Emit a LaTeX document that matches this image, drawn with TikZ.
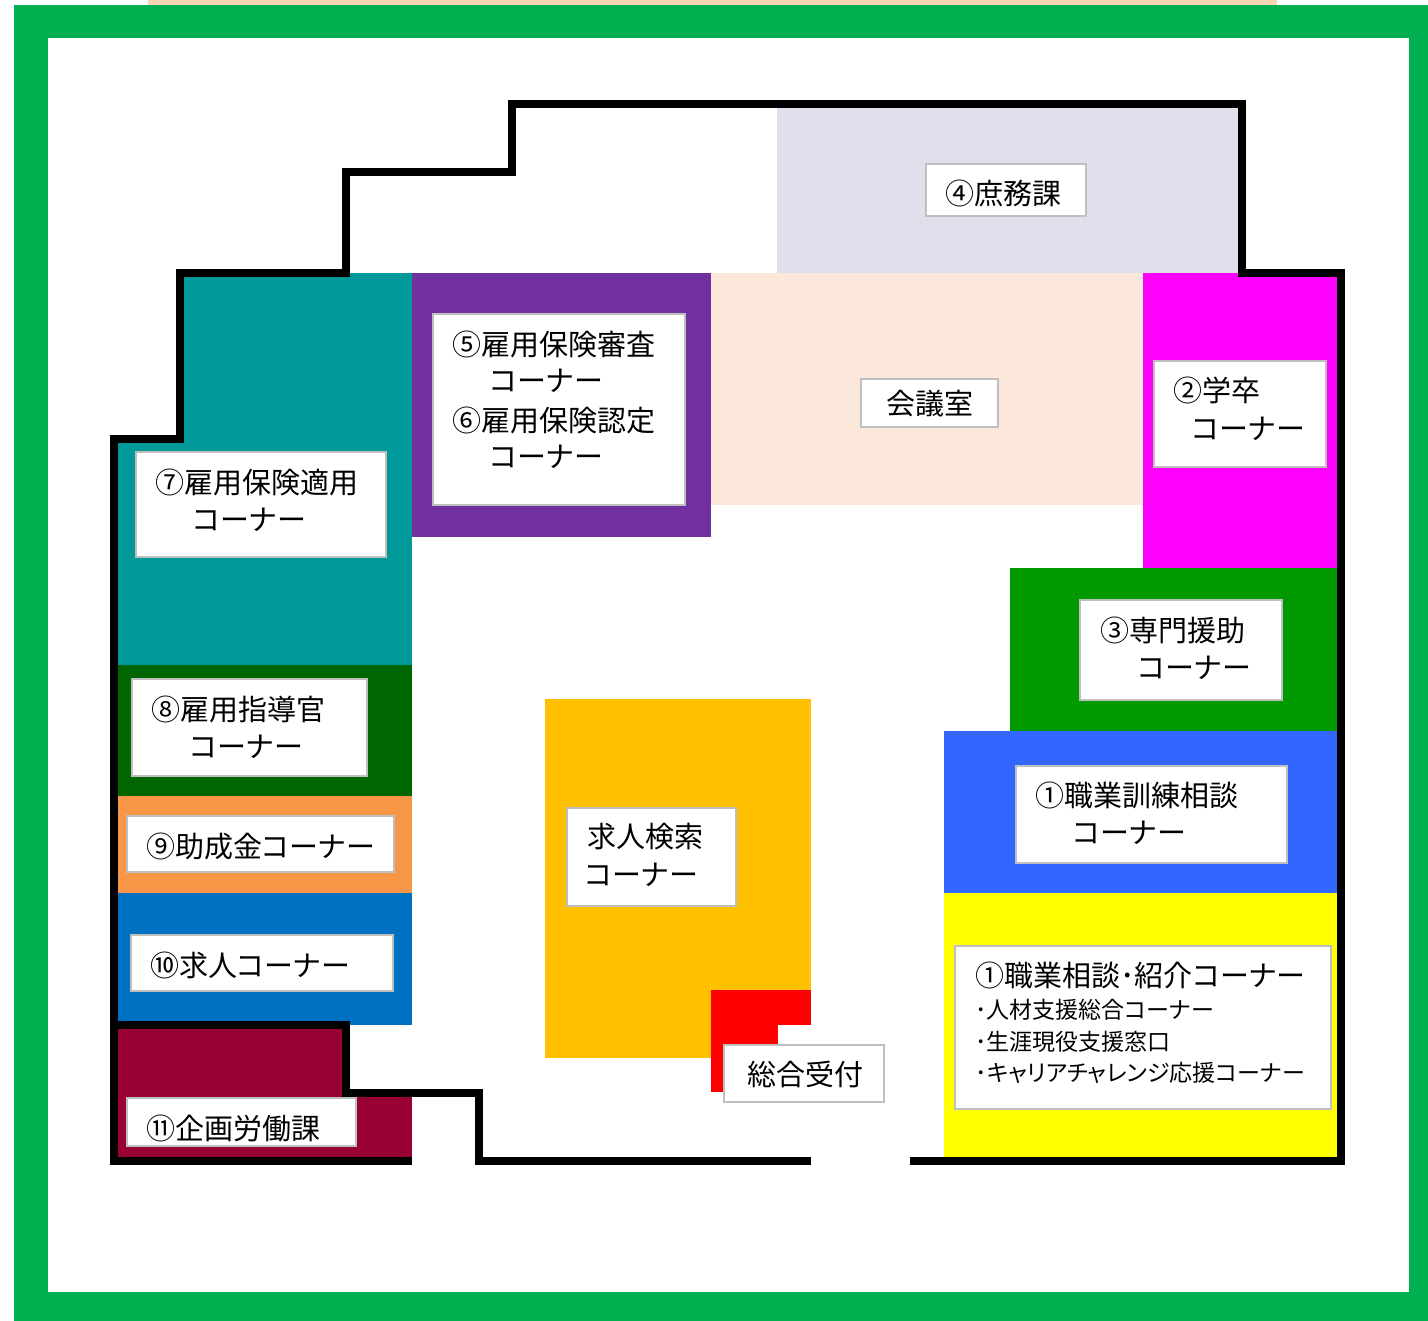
\documentclass[tikz,border=0pt]{standalone}
\usepackage{fontspec}
\setmainfont{Noto Sans CJK JP}[RawFeature=+palt]
\definecolor{framegreen}{RGB}{0,176,80}
\definecolor{stripor}{RGB}{252,213,180}
\definecolor{lav}{RGB}{225,223,236}
\definecolor{teal2}{RGB}{0,153,153}
\definecolor{purp}{RGB}{112,48,160}
\definecolor{peach}{RGB}{251,232,218}
\definecolor{mag}{RGB}{255,0,255}
\definecolor{grn3}{RGB}{0,153,0}
\definecolor{blu1}{RGB}{51,102,255}
\definecolor{yel}{RGB}{255,255,0}
\definecolor{dgrn}{RGB}{0,102,0}
\definecolor{or9}{RGB}{247,150,70}
\definecolor{blu10}{RGB}{0,112,192}
\definecolor{maroon}{RGB}{153,0,51}
\definecolor{gold}{RGB}{255,192,0}
\definecolor{labelgray}{RGB}{191,191,191}
\tikzset{
  wall/.style={line width=4pt, line join=miter, line cap=rect, black},
  lblbox/.style={fill=white, draw=labelgray, line width=1pt},
  txt/.style={anchor=west, inner sep=0pt, font=\fontsize{14.5}{17}\selectfont},
  subtxt/.style={anchor=west, inner sep=0pt, font=\fontsize{11.5}{14}\selectfont}
}
\begin{document}
\begin{tikzpicture}[x=0.5pt,y=-0.5pt]
\useasboundingbox (0,0) rectangle (1428,1321);
% frame
\fill[stripor] (148,0) rectangle (1277,5);
\fill[framegreen] (14,5) rectangle (1428,1321);
\fill[white] (48,38) rectangle (1409,1292);
% rooms
\fill[lav] (777,108) rectangle (1239,273);
\fill[teal2] (184,273) rectangle (412,665);
\fill[teal2] (118,443) rectangle (412,665);
\fill[purp] (412,273) rectangle (711,537);
\fill[peach] (711,273) rectangle (1143,505);
\fill[mag] (1143,273) rectangle (1338,568);
\fill[grn3] (1010,568) rectangle (1338,731);
\fill[blu1] (944,731) rectangle (1338,893);
\fill[yel] (944,893) rectangle (1338,1157);
\fill[dgrn] (118,665) rectangle (412,796);
\fill[or9] (118,796) rectangle (412,893);
\fill[blu10] (118,893) rectangle (412,1025);
\fill[maroon] (118,1025) rectangle (346,1157);
\fill[maroon] (346,1097) rectangle (412,1157);
\fill[gold] (545,699) rectangle (811,990);
\fill[gold] (545,990) rectangle (711,1058);
\fill[red] (711,990) rectangle (811,1025);
\fill[red] (711,1025) rectangle (778,1092);
% walls
\draw[wall] (114,1161) -- (114,439) -- (180,439) -- (180,273) -- (346,273) -- (346,172) -- (512,172) -- (512,104) -- (1242,104) -- (1242,273) -- (1341,273) -- (1341,1161) -- (914,1161);
\draw[wall] (114,1161) -- (408,1161);
\draw[wall] (114,1025) -- (346,1025) -- (346,1093) -- (479,1093) -- (479,1161) -- (807,1161);
% label boxes
\draw[lblbox] (926,164) rectangle (1086,216);
\draw[lblbox] (861,379) rectangle (998,427);
\draw[lblbox] (433,314) rectangle (685,505);
\draw[lblbox] (1154,361) rectangle (1326,467);
\draw[lblbox] (136,452) rectangle (386,557);
\draw[lblbox] (1080,600) rectangle (1282,700);
\draw[lblbox] (132,679) rectangle (367,776);
\draw[lblbox] (127,816) rectangle (394,872);
\draw[lblbox] (567,808) rectangle (736,906);
\draw[lblbox] (1016,766) rectangle (1287,863);
\draw[lblbox] (131,935) rectangle (393,991);
\draw[lblbox] (724,1045) rectangle (884,1102);
\draw[lblbox] (127,1098) rectangle (356,1146);
\draw[lblbox] (955,946) rectangle (1331,1109);
% texts
\node[txt] (t4) at (945,193) {④庶務課};
\node[txt] (tkaigi) at (886,404) {会議室};
\node[txt] (t5a) at (452,344) {⑤雇用保険審査};
\node[txt] (t5b) at (490,381) {コーナー};
\node[txt] (t6a) at (452,420) {⑥雇用保険認定};
\node[txt] (t6b) at (490,457) {コーナー};
\node[txt] (t2a) at (1173,390) {②学卒};
\node[txt] (t2b) at (1192,429) {コーナー};
\node[txt] (t7a) at (155,482) {⑦雇用保険適用};
\node[txt] (t7b) at (193,520) {コーナー};
\node[txt] (t3a) at (1100,630) {③専門援助};
\node[txt] (t3b) at (1138,668) {コーナー};
\node[txt] (t8a) at (151,709) {⑧雇用指導官};
\node[txt] (t8b) at (190,747) {コーナー};
\node[txt] (t9) at (146,846) {⑨助成金コーナー};
\node[txt] (tka) at (587,837) {求人検索};
\node[txt] (tkb) at (585,875) {コーナー};
\node[txt] (t1a) at (1035,795) {①職業訓練相談};
\node[txt] (t1b) at (1073,833) {コーナー};
\node[txt] (t10) at (150,965) {⑩求人コーナー};
\node[txt] (t11) at (146,1128) {⑪企画労働課};
\node[txt] (tuke) at (747,1074) {総合受付};
\node[txt] (t1c) at (975,975) {①職業相談･紹介コーナー};
\node[subtxt] (s1) at (975,1010) {･人材支援総合コーナー};
\node[subtxt] (s2) at (975,1042) {･生涯現役支援窓口};
\node[subtxt] (s3) at (975,1073) {･キャリアチャレンジ応援コーナー};
\end{tikzpicture}
\end{document}
